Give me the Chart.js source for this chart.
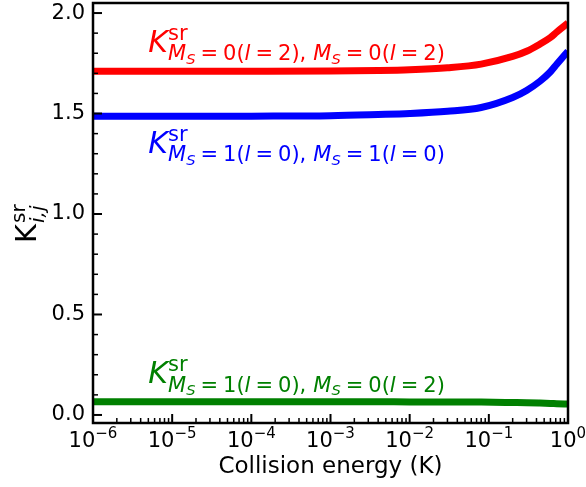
<!DOCTYPE html>
<html>
<head>
<meta charset="utf-8">
<script src="https://cdn.jsdelivr.net/npm/chart.js@4.4.1/dist/chart.umd.min.js"></script>
<style>
html, body { margin: 0; padding: 0; background: #fff; }
#wrap { width: 586px; height: 487px; }
</style>
</head>
<body>
<div id="wrap"><canvas id="grafico"></canvas></div>
<script>
// collision energy (K) and the three short-range K elements
const energies = [1e-6, 1e-5, 1e-4, 1e-3, 4e-3, 1e-2, 0.03, 0.08, 0.2, 0.3, 0.44, 0.6, 0.72, 1];
const k00 = [1.710, 1.710, 1.710, 1.711, 1.714, 1.718, 1.728, 1.746, 1.784, 1.810, 1.845, 1.878, 1.905, 1.950];
const k11 = [1.486, 1.486, 1.487, 1.489, 1.495, 1.500, 1.511, 1.530, 1.580, 1.615, 1.660, 1.708, 1.745, 1.810];
const k10 = [0.066, 0.066, 0.066, 0.066, 0.066, 0.065, 0.065, 0.064, 0.062, 0.061, 0.059, 0.057, 0.056, 0.054];

const yTicks = [0, 0.5, 1.0, 1.5, 2.0];
const yMinor = [0.1, 0.2, 0.3, 0.4, 0.6, 0.7, 0.8, 0.9, 1.1, 1.2, 1.3, 1.4, 1.6, 1.7, 1.8, 1.9];
const xExps = [-6, -5, -4, -3, -2, -1, 0];

// M_S(l) pairs for each label
const labelMs = [['0', '2', '0', '2'], ['1', '0', '1', '0'], ['1', '0', '0', '2']];
const labelColors = ['#ff0000', '#0000ff', '#008000'];

const FONT = '"DejaVu Sans"';

function runs(ctx, x, y, list) {
    list.forEach(r => {
        if (r.gap) { x += r.gap; return; }
        ctx.font = (r.it ? 'italic ' : '') + r.s + 'px ' + FONT;
        ctx.fillText(r.t, x, y + (r.dy || 0));
        x += ctx.measureText(r.t).width;
    });
    return x;
}

function subRuns(p) {
    const s = 21, ss = 14.7, dy = 8.5, g = 5;
    const half = (m, l) => [
        {t: 'M', s: s, it: 1, dy: dy}, {t: 'S', s: ss, it: 1, dy: 12}, {gap: g},
        {t: '=', s: s, dy: dy}, {gap: g}, {t: m + '(', s: s, dy: dy},
        {t: 'l', s: s, it: 1, dy: dy}, {gap: g}, {t: '=', s: s, dy: dy}, {gap: g},
        {t: l + ')', s: s, dy: dy}
    ];
    return [...half(p[0], p[1]), {t: ',', s: s, dy: dy}, {gap: 7}, ...half(p[2], p[3])];
}

const deco = {
    id: 'deco',
    afterDraw(chart) {
        const ctx = chart.ctx;
        const a = chart.chartArea;
        const xs = chart.scales.x, ys = chart.scales.y;
        ctx.save();
        ctx.strokeStyle = '#000';
        ctx.fillStyle = '#000';

        // inward ticks
        ctx.lineWidth = 2;
        yTicks.forEach(v => {
            const py = ys.getPixelForValue(v);
            ctx.beginPath(); ctx.moveTo(a.left, py); ctx.lineTo(a.left + 9, py); ctx.stroke();
        });
        xExps.forEach(e => {
            const px = xs.getPixelForValue(Math.pow(10, e));
            ctx.beginPath(); ctx.moveTo(px, a.bottom); ctx.lineTo(px, a.bottom - 9); ctx.stroke();
        });
        ctx.lineWidth = 1.5;
        yMinor.forEach(v => {
            const py = ys.getPixelForValue(v);
            ctx.beginPath(); ctx.moveTo(a.left, py); ctx.lineTo(a.left + 5, py); ctx.stroke();
        });
        xExps.slice(0, -1).forEach(e => {
            for (let m = 2; m < 10; m++) {
                const px = xs.getPixelForValue(m * Math.pow(10, e));
                ctx.beginPath(); ctx.moveTo(px, a.bottom); ctx.lineTo(px, a.bottom - 5); ctx.stroke();
            }
        });

        // spines
        ctx.lineWidth = 2.5;
        ctx.strokeRect(a.left, a.top, a.right - a.left, a.bottom - a.top);

        // x tick labels 10^n
        ctx.textBaseline = 'alphabetic';
        ctx.textAlign = 'left';
        xExps.forEach(e => {
            const px = xs.getPixelForValue(Math.pow(10, e));
            const sup = (e < 0 ? '\u2212' : '') + Math.abs(e);
            ctx.font = '21px ' + FONT;
            const w1 = ctx.measureText('10').width;
            ctx.font = '15px ' + FONT;
            const w2 = ctx.measureText(sup).width;
            const x0 = px - (w1 + w2) / 2;
            runs(ctx, x0, 447, [{t: '10', s: 21}, {t: sup, s: 15, dy: -9}]);
        });

        // x title
        ctx.font = '23px ' + FONT;
        ctx.textAlign = 'center';
        ctx.fillText('Collision energy (K)', (a.left + a.right) / 2, 473);

        // y title
        ctx.textAlign = 'left';
        ctx.save();
        ctx.translate(36, 243);
        ctx.rotate(-Math.PI / 2);
        ctx.font = '29px ' + FONT;
        ctx.fillText('K', 0, 0);
        const kw = ctx.measureText('K').width + 1;
        ctx.font = '20px ' + FONT;
        ctx.fillText('sr', kw, -11);
        ctx.font = 'italic 20px ' + FONT;
        ctx.fillText('i,j', kw, 7.5);
        ctx.restore();

        // curve labels, anchored in data coordinates
        const anchorY = [1.807, 1.304, 0.159];
        const lx = xs.getPixelForValue(5e-6);
        labelMs.forEach((p, i) => {
            const ly = ys.getPixelForValue(anchorY[i]);
            ctx.fillStyle = labelColors[i];
            ctx.font = 'italic 30px ' + FONT;
            ctx.fillText('K', lx, ly);
            const x1 = lx + ctx.measureText('K').width;
            ctx.font = '21px ' + FONT;
            ctx.fillText('sr', x1, ly - 12);
            runs(ctx, x1, ly, subRuns(p));
        });
        ctx.restore();
    }
};

const series = [k00, k11, k10];
new Chart(document.getElementById('grafico'), {
    type: 'line',
    data: {
        labels: energies,
        datasets: series.map((vals, i) => ({
            data: energies.map((e, j) => ({x: e, y: vals[j]})),
            borderColor: labelColors[i],
            borderWidth: 7,
            pointRadius: 0,
            fill: false,
            cubicInterpolationMode: 'monotone'
        }))
    },
    options: {
        responsive: true,
        maintainAspectRatio: false,
        animation: false,
        layout: { padding: { top: 3, right: 18, left: 0, bottom: 0 } },
        plugins: { legend: { display: false }, tooltip: { enabled: false } },
        scales: {
            x: {
                type: 'logarithmic',
                min: 1e-6,
                max: 1,
                grid: { display: false, drawTicks: false },
                border: { display: false },
                ticks: { display: false },
                afterFit: s => { s.height = 64; s.paddingLeft = 0; s.paddingRight = 0; }
            },
            y: {
                min: -0.04,
                max: 2.05,
                grid: { display: false, drawTicks: false },
                border: { display: false },
                afterBuildTicks: s => { s.ticks = yTicks.map(v => ({value: v})); },
                ticks: {
                    padding: 8,
                    color: '#000',
                    font: { family: 'DejaVu Sans', size: 21 },
                    callback: v => v.toFixed(1)
                },
                afterFit: s => { s.width = 93; s.paddingTop = 0; s.paddingBottom = 0; }
            }
        }
    },
    plugins: [deco]
});
</script>
</body>
</html>
